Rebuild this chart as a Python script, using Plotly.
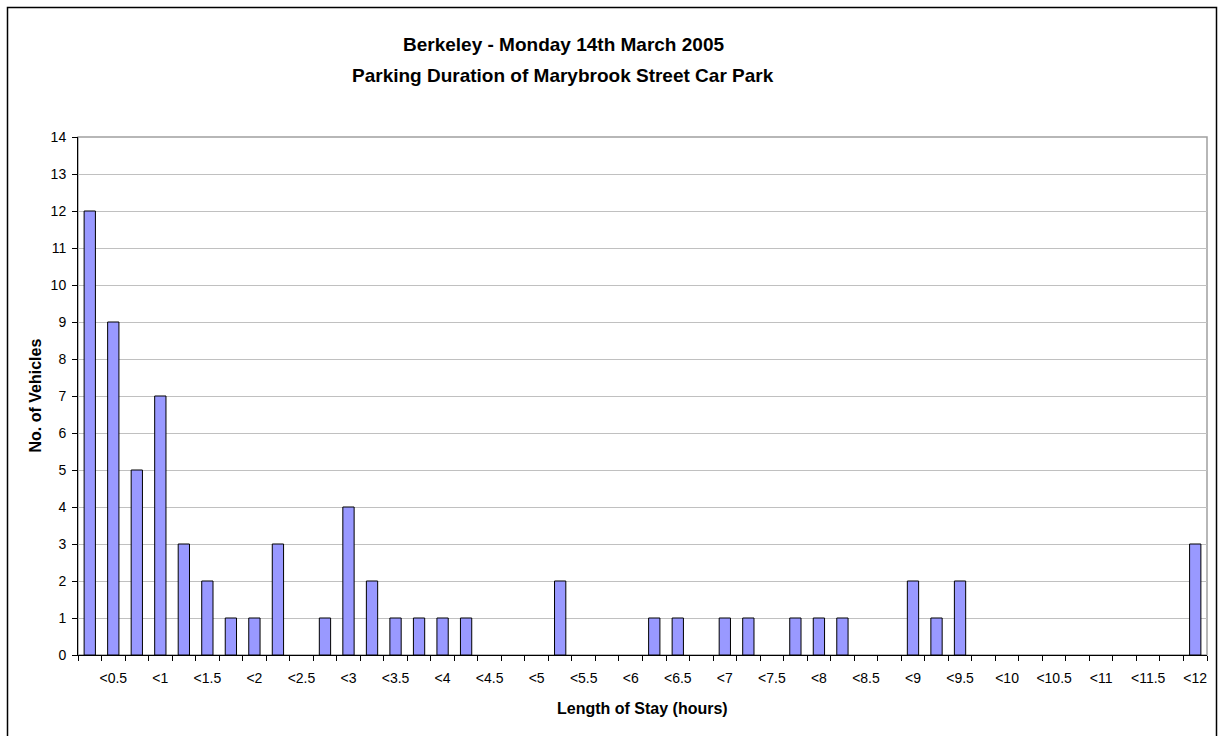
import plotly.graph_objects as go

# Categories: 15-minute bins, "<0.25" ... "<12"
categories = ["<" + (str(int(q / 4)) if q % 4 == 0 else str(q / 4)) for q in range(1, 49)]
values = [12, 9, 5, 7, 3, 2, 1, 1, 3, 0, 1, 4, 2, 1, 1, 1, 1, 0, 0, 0,
          2, 0, 0, 0, 1, 1, 0, 1, 1, 0, 1, 1, 1, 0, 0, 2, 1, 2, 0, 0,
          0, 0, 0, 0, 0, 0, 0, 3]
# only every other (half-hour) label is shown
tick_text = [c if i % 2 == 1 else "" for i, c in enumerate(categories)]

title_line1 = "Berkeley - Monday 14th March 2005"
title_line2 = "Parking Duration of Marybrook Street Car Park"
x_title = "Length of Stay (hours)"
y_title = "No. of Vehicles"

W, H = 1219, 736
L, R, T, B = 78, 12, 137, 81
pw, ph = W - L - R, H - T - B

def px_x(p):
    return (p - L) / pw

def px_y(p):
    return (H - B - p) / ph

font_main = "Liberation Sans, Arial, sans-serif"

fig = go.Figure()
fig.add_trace(go.Bar(
    x=categories, y=values,
    marker=dict(color="#9999FF",
                line=dict(color="#000000", width=[1 if v > 0 else 0 for v in values])),
    showlegend=False,
))

fig.update_layout(
    width=W, height=H,
    margin=dict(l=L, r=R, t=T, b=B, pad=0),
    paper_bgcolor="white", plot_bgcolor="white",
    bargap=0.52,
    font=dict(family=font_main, size=14, color="black"),
    xaxis=dict(
        type="category",
        tickmode="array", tickvals=categories, ticktext=tick_text,
        tickson="boundaries", ticks="outside", ticklen=5, tickcolor="black",
        showline=True, linecolor="black", linewidth=1,
        showgrid=False, tickangle=0,
        tickfont=dict(size=14),
        ticklabelstandoff=10,
        range=[-0.5, 47.5],
    ),
    yaxis=dict(
        range=[0, 14], dtick=1, tick0=0,
        ticks="outside", ticklen=5, tickcolor="black",
        showline=True, linecolor="black", linewidth=1,
        showgrid=True, gridcolor="#c0c0c0", gridwidth=1,
        zeroline=False,
        tickfont=dict(size=14),
        ticklabelstandoff=3,
    ),
    shapes=[
        dict(type="rect", xref="paper", yref="paper", x0=0, x1=1, y0=0, y1=1,
             line=dict(color="#a0a0a0", width=1.5), layer="below"),
        dict(type="rect", xref="paper", yref="paper",
             x0=px_x(7.5), x1=px_x(1216.5), y0=px_y(745), y1=px_y(7.5),
             line=dict(color="black", width=1.5)),
    ],
    annotations=[
        dict(text=f"<b>{title_line1}</b>", xref="paper", yref="paper",
             x=px_x(563), y=px_y(44), xanchor="center", yanchor="middle",
             showarrow=False, font=dict(size=19)),
        dict(text=f"<b>{title_line2}</b>", xref="paper", yref="paper",
             x=px_x(563), y=px_y(76), xanchor="center", yanchor="middle",
             showarrow=False, font=dict(size=19)),
        dict(text=f"<b>{x_title}</b>", xref="paper", yref="paper",
             x=0.5, y=px_y(708), xanchor="center", yanchor="middle",
             showarrow=False, font=dict(size=16)),
        dict(text=f"<b>{y_title}</b>", xref="paper", yref="paper",
             x=px_x(34.5), y=px_y(396), xanchor="center", yanchor="middle",
             textangle=-90, showarrow=False, font=dict(size=16)),
    ],
)

fig.write_html("out.html",
               config={"displayModeBar": False},
               post_script="document.body.style.margin='0';document.body.style.overflow='hidden';")
